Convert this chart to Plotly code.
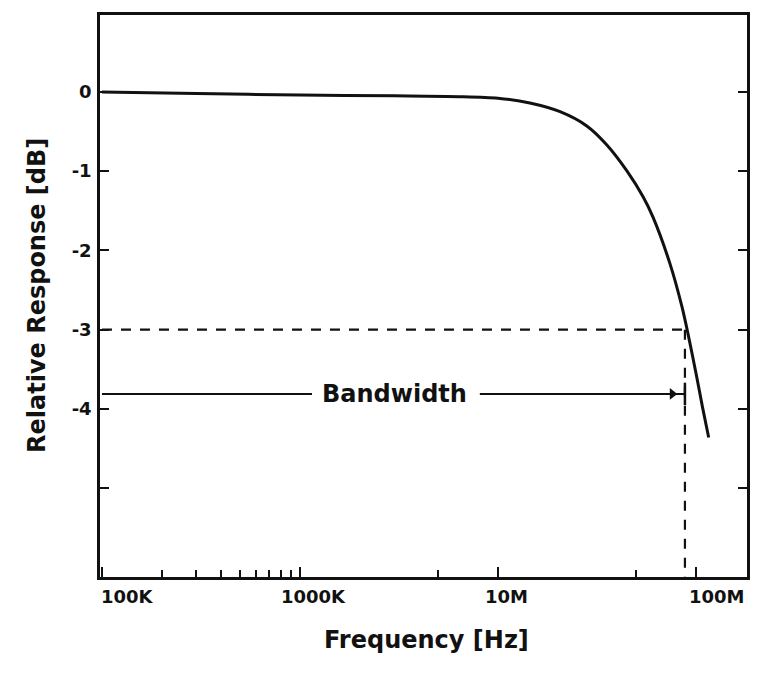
import numpy as np
import plotly.graph_objects as go

# ---- data ----
freq_hz = [1e5, 3e5, 1e6, 3e6, 6.4e6, 1.0e7, 1.45e7, 2.06e7, 2.81e7, 3.55e7, 4.49e7,
           5.4e7, 6.07e7, 7.4e7, 8.5e7, 9.1e7, 1.01e8, 1.08e8, 1.16e8]
resp_db = [0.0, -0.02, -0.04, -0.05, -0.06, -0.08, -0.14, -0.25, -0.43, -0.67, -1.00,
           -1.32, -1.58, -2.17, -2.71, -3.04, -3.60, -3.98, -4.36]

cutoff_hz = 8.8e7          # -3 dB point
cutoff_db = -3.0
bw_level_db = -3.81        # level of the "Bandwidth" arrow
bw_left_end_hz = 1.15e6
bw_right_start_hz = 8.1e6
bw_arrow_hz = 7.6e7
bw_label_hz = 3.02e6
bw_label = "Bandwidth"

x_tick_vals = [1e5, 1e6, 1e7, 1e8]
x_tick_text = ["100K", "1000K", "10M", "100M"]
x_minor_vals = [2e5, 3e5, 4e5, 5e5, 6e5, 7e5, 8e5, 9e5, 5e6, 5e7]
y_tick_vals = [0, -1, -2, -3, -4, -5]
y_tick_text = ["0", "-1", "-2", "-3", "-4", ""]

x_title = "Frequency [Hz]"
y_title = "Relative Response [dB]"

# ---- style ----
INK = "#111111"
FONT = "DejaVu Sans"
x_label_shift = [26, 14, 9, 21]

fig = go.Figure()

# response curve
fig.add_trace(go.Scatter(x=freq_hz, y=resp_db, mode="lines",
                         line=dict(color=INK, width=3, shape="spline", smoothing=0.8),
                         hoverinfo="skip"))
# -3 dB dashed horizontal
fig.add_trace(go.Scatter(x=[freq_hz[0], cutoff_hz], y=[cutoff_db, cutoff_db], mode="lines",
                         line=dict(color=INK, width=2.2, dash="10px,9px")))
# dashed vertical to axis
fig.add_trace(go.Scatter(x=[cutoff_hz, cutoff_hz], y=[cutoff_db, -6.2], mode="lines",
                         line=dict(color=INK, width=2.2, dash="10px,9px")))
# bandwidth arrow: left segment
fig.add_trace(go.Scatter(x=[freq_hz[0], bw_left_end_hz], y=[bw_level_db, bw_level_db],
                         mode="lines", line=dict(color=INK, width=2)))
# right segment with arrowhead and end bar
fig.add_trace(go.Scatter(x=[bw_right_start_hz, cutoff_hz], y=[bw_level_db, bw_level_db],
                         mode="lines", line=dict(color=INK, width=2)))
fig.add_trace(go.Scatter(x=[bw_arrow_hz], y=[bw_level_db], mode="markers",
                         marker=dict(symbol="triangle-right", size=10, color=INK)))
fig.add_trace(go.Scatter(x=[cutoff_hz], y=[bw_level_db], mode="markers",
                         marker=dict(symbol="line-ns", size=16,
                                     line=dict(color=INK, width=2.5))))

annotations = []
annotations.append(dict(x=np.log10(bw_label_hz), y=bw_level_db, xref="x", yref="y",
                        text=bw_label, showarrow=False,
                        font=dict(family=FONT, size=24, color=INK, weight="bold"),
                        xanchor="center", yanchor="middle"))
for v, t, s in zip(x_tick_vals, x_tick_text, x_label_shift):
    annotations.append(dict(x=np.log10(v), y=0, xref="x", yref="paper", text=t,
                            showarrow=False, xanchor="center", yanchor="middle",
                            xshift=s, yshift=-19,
                            font=dict(family=FONT, size=18, color=INK, weight="bold")))
annotations.append(dict(x=0.505, y=0, xref="paper", yref="paper", text=x_title,
                        showarrow=False, xanchor="center", yanchor="middle", yshift=-63,
                        font=dict(family=FONT, size=24, color=INK, weight="bold")))
annotations.append(dict(x=0, y=0.5, xref="paper", yref="paper", text=y_title,
                        showarrow=False, xanchor="center", yanchor="middle", xshift=-63,
                        textangle=-90,
                        font=dict(family=FONT, size=24, color=INK, weight="bold")))

# the page body adds an 8px offset, so the margins compensate for it
fig.update_layout(
    width=755, height=667,
    margin=dict(l=92, r=16, t=7, b=98, autoexpand=False),
    paper_bgcolor="white", plot_bgcolor="white",
    showlegend=False,
    annotations=annotations,
    xaxis=dict(type="log", range=[4.99, 8.258], showgrid=False, zeroline=False,
               automargin=False,
               showline=True, linecolor=INK, linewidth=2.5, mirror=True,
               tickmode="array", tickvals=x_tick_vals, showticklabels=False,
               ticks="inside", ticklen=10, tickwidth=2, tickcolor=INK,
               minor=dict(tickmode="array", tickvals=x_minor_vals, ticks="inside",
                          ticklen=7, tickwidth=2, tickcolor=INK, showgrid=False)),
    yaxis=dict(range=[-6.12, 0.97], showgrid=False, zeroline=False,
               automargin=False,
               showline=True, linecolor=INK, linewidth=2.5, mirror="ticks",
               tickmode="array", tickvals=y_tick_vals, ticktext=y_tick_text,
               ticks="inside", ticklen=9, tickwidth=2, tickcolor=INK,
               ticklabelstandoff=2,
               tickfont=dict(family=FONT, size=18, color=INK, weight="bold")),
)

fig.write_html("out.html")
